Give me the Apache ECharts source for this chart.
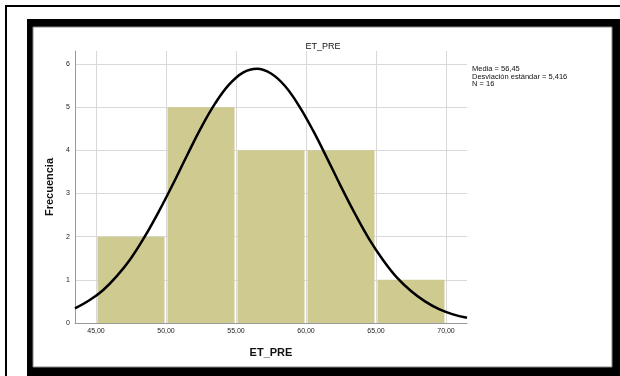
<!DOCTYPE html>
<html><head><meta charset="utf-8">
<script src="https://cdn.jsdelivr.net/npm/echarts@6/dist/echarts.min.js"></script>
<style>html,body{margin:0;padding:0;background:#fff}#c{width:620px;height:376px}</style>
</head><body><div id="c"></div>
<script>
const chartTitle = 'ET_PRE';
const xAxisName = 'ET_PRE';
const yAxisName = 'Frecuencia';
const binStarts = [45, 50, 55, 60, 65];
const binEnds = [50, 55, 60, 65, 70];
const counts = [2, 5, 4, 4, 1];
const xTicks = [45, 50, 55, 60, 65, 70];
const curveX = [43.5, 44.5, 45.5, 46.5, 47.5, 48.5, 49.5, 50.5, 51.5, 52.5, 53.5, 54.5, 55.5, 56.5, 57.5, 58.5, 59.5, 60.5, 61.5, 62.5, 63.5, 64.5, 65.5, 66.5, 67.5, 68.5, 69.5, 70.5, 71.5];
const curveY = [0.34, 0.52, 0.76, 1.09, 1.50, 2.01, 2.59, 3.22, 3.88, 4.52, 5.08, 5.52, 5.80, 5.89, 5.78, 5.49, 5.03, 4.46, 3.82, 3.16, 2.53, 1.95, 1.46, 1.05, 0.74, 0.50, 0.32, 0.20, 0.12];
const statMean = '56,45';
const statSd = '5,416';
const statN = '16';

const fmt = v => v.toFixed(2).replace('.', ',');
const chart = echarts.init(document.getElementById('c'), null, {renderer: 'canvas'});
const barData = binStarts.map((s, i) => [s, binEnds[i], counts[i]]);
const curveData = curveX.map((x, i) => [x, curveY[i]]);

chart.setOption({
  animation: false,
  backgroundColor: '#fff',
  textStyle: {fontFamily: 'Liberation Sans, Arial, sans-serif'},
  title: {
    text: chartTitle, left: 318, top: 37, textAlign: 'center',
    textStyle: {fontSize: 9, fontWeight: 'normal', color: '#111', fontFamily: 'Liberation Sans'}
  },
  graphic: {elements: [
    {type: 'rect', z: -100, shape: {x: 5, y: 5, width: 620, height: 2}, style: {fill: '#000'}},
    {type: 'rect', z: -100, shape: {x: 5, y: 5, width: 2, height: 380}, style: {fill: '#000'}},
    {type: 'rect', z: -100, shape: {x: 27, y: 19, width: 600, height: 370}, style: {fill: '#000'}},
    {type: 'rect', z: -99, shape: {x: 33, y: 27, width: 579, height: 340}, style: {fill: '#fff', stroke: '#888', lineWidth: 1}},
    {type: 'text', z: 100, left: 472, top: 65, style: {
      text: 'Media = ' + statMean + '\nDesviación estándar = ' + statSd + '\nN = ' + statN,
      fontSize: 7.5, lineHeight: 7.5, fill: '#111', fontFamily: 'Liberation Sans'
    }}
  ]},
  grid: {left: 75, right: 153, top: 51, bottom: 53},
  xAxis: {
    type: 'value', min: 43.5, max: 71.5,
    name: xAxisName, nameLocation: 'middle', nameGap: 24,
    nameTextStyle: {fontSize: 11, fontWeight: 'bold', color: '#111', fontFamily: 'Liberation Sans'},
    axisLine: {show: true, lineStyle: {color: '#999', width: 1}},
    axisTick: {show: false, customValues: xTicks},
    axisLabel: {customValues: xTicks, formatter: fmt, fontSize: 7, color: '#222', margin: 5, fontFamily: 'Liberation Sans'},
    splitLine: {show: false}
  },
  yAxis: {
    type: 'value', min: 0, max: 6.3, interval: 1,
    name: yAxisName, nameLocation: 'middle', nameGap: 13, nameRotate: 90,
    nameTextStyle: {fontSize: 11, fontWeight: 'bold', color: '#111', fontFamily: 'Liberation Sans'},
    axisLine: {show: true, lineStyle: {color: '#999', width: 1}},
    axisTick: {show: false},
    axisLabel: {fontSize: 7, color: '#222', margin: 5, showMaxLabel: false, fontFamily: 'Liberation Sans',
      formatter: v => (Math.abs(v - Math.round(v)) < 1e-6 ? String(Math.round(v)) : '')},
    splitLine: {show: true, showMaxLine: false, lineStyle: {color: '#d9d9d9', width: 1}}
  },
  series: [
    {
      type: 'custom', data: barData, z: 2,
      renderItem: (params, api) => {
        const p0 = api.coord([api.value(0), 0]);
        const p1 = api.coord([api.value(1), api.value(2)]);
        return {type: 'rect', shape: {x: p0[0] + 1.5, y: p1[1], width: p1[0] - p0[0] - 3, height: p0[1] - p1[1]},
          style: {fill: '#cfca8f'}};
      },
      markLine: {
        silent: true, symbol: 'none', z: 1, label: {show: false},
        lineStyle: {color: '#d9d9d9', width: 1, type: 'solid'},
        data: xTicks.map(v => ({xAxis: v}))
      }
    },
    {
      type: 'line', data: curveData, smooth: 0.4, showSymbol: false, z: 5,
      lineStyle: {color: '#000', width: 2.5}
    }
  ]
});
</script></body></html>
